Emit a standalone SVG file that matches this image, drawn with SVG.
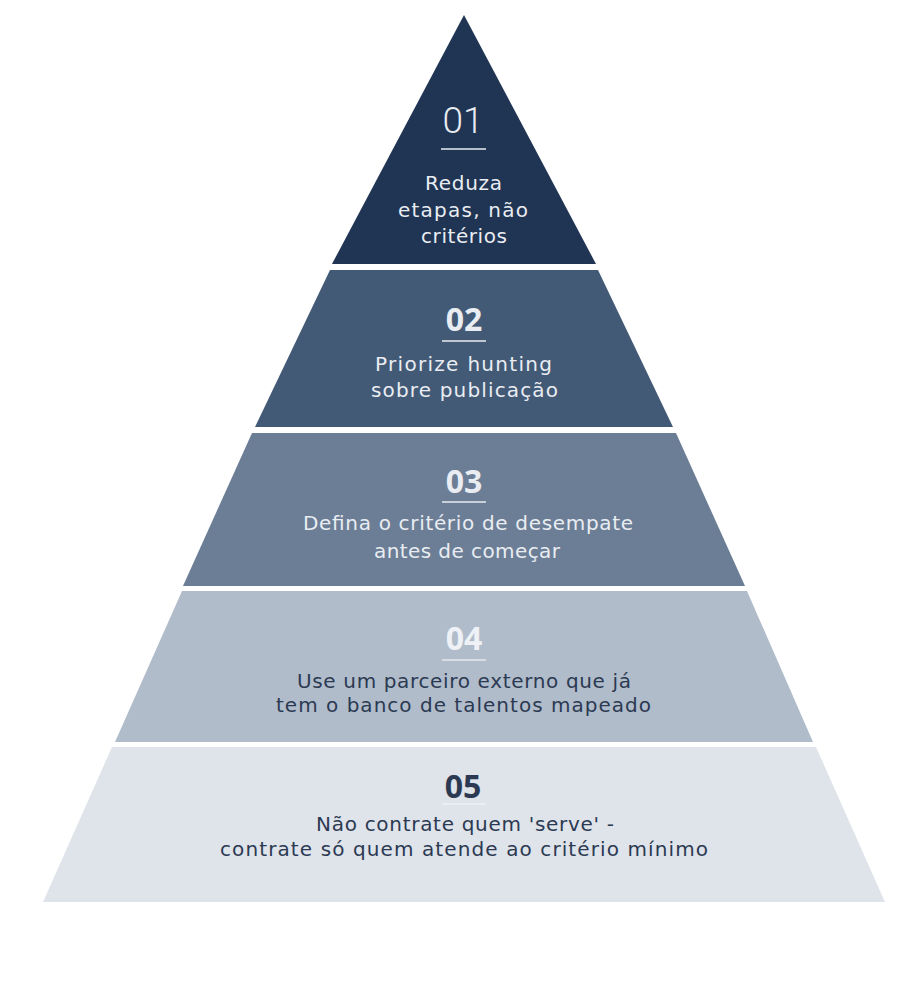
<svg xmlns="http://www.w3.org/2000/svg" width="899" height="985" viewBox="0 0 899 985">
  <style>
    .num { font-family: "Open Sans", "Liberation Sans", sans-serif; font-weight: 700; font-size: 32px; text-anchor: middle; }
    .num1 { font-family: Roboto, "Liberation Sans", sans-serif; font-weight: 300; font-size: 37px; text-anchor: middle; }
    .txt { font-family: "DejaVu Sans", "Open Sans", sans-serif; font-size: 20px; text-anchor: middle; }
    .light { fill: #e9edf2; }
    .dark { fill: #2b3a52; }
    .rule { stroke-width: 1.5; }
  </style>
  <rect width="899" height="985" fill="#ffffff"/>
  <g id="tier1">
    <polygon points="464,15 596,264 332,264" fill="#203453"/>
    <text class="num1 light" x="463" y="133">01</text>
    <line class="rule" x1="441" y1="149" x2="486" y2="149" stroke="#e9edf2"/>
    <text class="txt light" x="463.5" y="190" textLength="77" lengthAdjust="spacing">Reduza</text>
    <text class="txt light" x="463" y="217" textLength="130" lengthAdjust="spacing">etapas, não</text>
    <text class="txt light" x="464" y="243" textLength="86" lengthAdjust="spacing">critérios</text>
  </g>
  <g id="tier2">
    <polygon points="330,270 598,270 673,427 255,427" fill="#435a77"/>
    <text class="num light" x="464" y="331">02</text>
    <line class="rule" x1="442" y1="341" x2="486" y2="341" stroke="#e9edf2"/>
    <text class="txt light" x="463.5" y="371" textLength="177" lengthAdjust="spacing">Priorize hunting</text>
    <text class="txt light" x="464.5" y="397" textLength="187" lengthAdjust="spacing">sobre publicação</text>
  </g>
  <g id="tier3">
    <polygon points="252,433 676,433 745,586 183,586" fill="#6b7e96"/>
    <text class="num light" x="464" y="493">03</text>
    <line class="rule" x1="442" y1="502" x2="486" y2="502" stroke="#e9edf2"/>
    <text class="txt light" x="468" y="530" textLength="330" lengthAdjust="spacing">Defina o critério de desempate</text>
    <text class="txt light" x="467" y="558" textLength="186" lengthAdjust="spacing">antes de começar</text>
  </g>
  <g id="tier4">
    <polygon points="182,591 747,591 813,742 115,742" fill="#b1bccb"/>
    <text class="num" x="464" y="650" fill="#eef1f5">04</text>
    <line class="rule" x1="442" y1="660" x2="486" y2="660" stroke="#e4e8ee"/>
    <text class="txt dark" x="464" y="688" textLength="334" lengthAdjust="spacing">Use um parceiro externo que já</text>
    <text class="txt dark" x="463.5" y="712" textLength="375" lengthAdjust="spacing">tem o banco de talentos mapeado</text>
  </g>
  <g id="tier5">
    <polygon points="112,747 816,747 885,902 43,902" fill="#dfe3ea"/>
    <text class="num dark" x="463" y="798">05</text>
    <line class="rule" x1="442" y1="804" x2="486" y2="804" stroke="#eef0f4"/>
    <text class="txt dark" x="465" y="831" textLength="298" lengthAdjust="spacing">Não contrate quem 'serve' -</text>
    <text class="txt dark" x="464" y="856" textLength="488" lengthAdjust="spacing">contrate só quem atende ao critério mínimo</text>
  </g>
  <g id="connectors"></g>
</svg>
